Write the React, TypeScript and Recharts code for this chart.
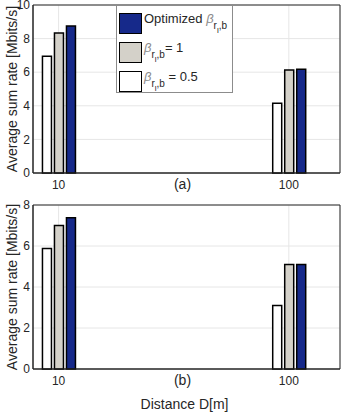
import React from 'react';
import { BarChart, Bar, XAxis, YAxis, CartesianGrid, ReferenceArea, Label } from 'recharts';

const distances = [10, 100];
const halfA = [6.95, 4.15];
const oneA = [8.33, 6.13];
const optA = [8.75, 6.17];
const halfB = [5.88, 3.1];
const oneB = [7.0, 5.1];
const optB = [7.38, 5.1];
const ticksA = [0, 2, 4, 6, 8, 10];
const ticksB = [0, 2, 4, 6, 8];

const FONT = '"Liberation Sans", Arial, sans-serif';
const INK = '#262626';
const BLUE = '#16298a';
const GRAY = '#d4d1c9';

const build = (h: number[], o: number[], p: number[]) =>
  distances.map((d, i) => ({ d, half: h[i], one: o[i], opt: p[i] }));

const Beta = () => (
  <span style={{ color: '#8a8a8a', fontStyle: 'italic' }}>
    β
    <sub style={{ fontSize: 10, fontStyle: 'normal', color: INK, verticalAlign: -6 }}>
      r<sub style={{ fontSize: 8, verticalAlign: -4 }}>l</sub>,b
    </sub>
  </span>
);

const Swatch = ({ fill }: any) => (
  <div style={{ width: 21, height: 19, background: fill, border: '1.5px solid #000', marginRight: 2 }} />
);

const labelStyle = { fontSize: 14, fontFamily: FONT, fill: INK };

const Panel = ({ data, max, ticks, height, axisH, sub, xlabel }: any) => (
  <BarChart width={346} height={height} data={data} margin={{ top: 5, right: 6, left: 0, bottom: 0 }} barSize={9} barGap={3}>
    <CartesianGrid stroke="#e6e6e6" />
    <XAxis dataKey="d" type="number" domain={[0, 120]} ticks={[10, 100]} height={axisH}
      tick={{ fill: INK, fontSize: 12, fontFamily: FONT }} tickLine={false} tickSize={0} tickMargin={7}
      axisLine={{ stroke: INK }}>
      <Label value={sub} position="insideTop" offset={6} style={labelStyle} dx={-4} />
      {xlabel && <Label value={xlabel} position="insideBottom" offset={8} style={labelStyle} dx={-2} />}
    </XAxis>
    <YAxis domain={[0, max]} ticks={ticks} width={33} tick={{ fill: INK, fontSize: 12, fontFamily: FONT }}
      tickLine={false} tickSize={0} tickMargin={3} axisLine={{ stroke: INK }} interval={0}>
      <Label value="Average sum rate [Mbits/s]" angle={-90} position="insideLeft" offset={12} style={{ ...labelStyle, textAnchor: 'middle' }} />
    </YAxis>
    <ReferenceArea x1={0} x2={120} y1={0} y2={max} fill="none" stroke={INK} strokeWidth={1} />
    <Bar dataKey="half" fill="#ffffff" stroke="#000" strokeWidth={1.5} isAnimationActive={false} />
    <Bar dataKey="one" fill={GRAY} stroke="#000" strokeWidth={1.5} isAnimationActive={false} />
    <Bar dataKey="opt" fill={BLUE} stroke="#000" strokeWidth={1.5} isAnimationActive={false} />
  </BarChart>
);

export default function App() {
  const row = { display: 'flex', alignItems: 'center', height: 29 };
  return (
    <div style={{ position: 'absolute', left: 0, top: 0, width: 346, height: 417, background: '#fff', fontFamily: FONT }}>
      <div style={{ position: 'relative' }}>
        <Panel data={build(halfA, oneA, optA)} max={10} ticks={ticksA} height={200} axisH={27} sub="(a)" />
        <div style={{ position: 'absolute', left: 116, top: 5, width: 117, height: 88, background: '#fff', border: '1px solid #8c8c8c', boxSizing: 'border-box', padding: '3px 2px', fontSize: 13, color: INK, lineHeight: 1 }}>
          <div style={row}><Swatch fill={BLUE} /><span>Optimized <Beta /></span></div>
          <div style={row}><Swatch fill={GRAY} /><span><Beta />= 1</span></div>
          <div style={row}><Swatch fill="#fff" /><span><Beta /> = 0.5</span></div>
        </div>
      </div>
      <Panel data={build(halfB, oneB, optB)} max={8} ticks={ticksB} height={217} axisH={48} sub="(b)" xlabel="Distance D[m]" />
    </div>
  );
}
